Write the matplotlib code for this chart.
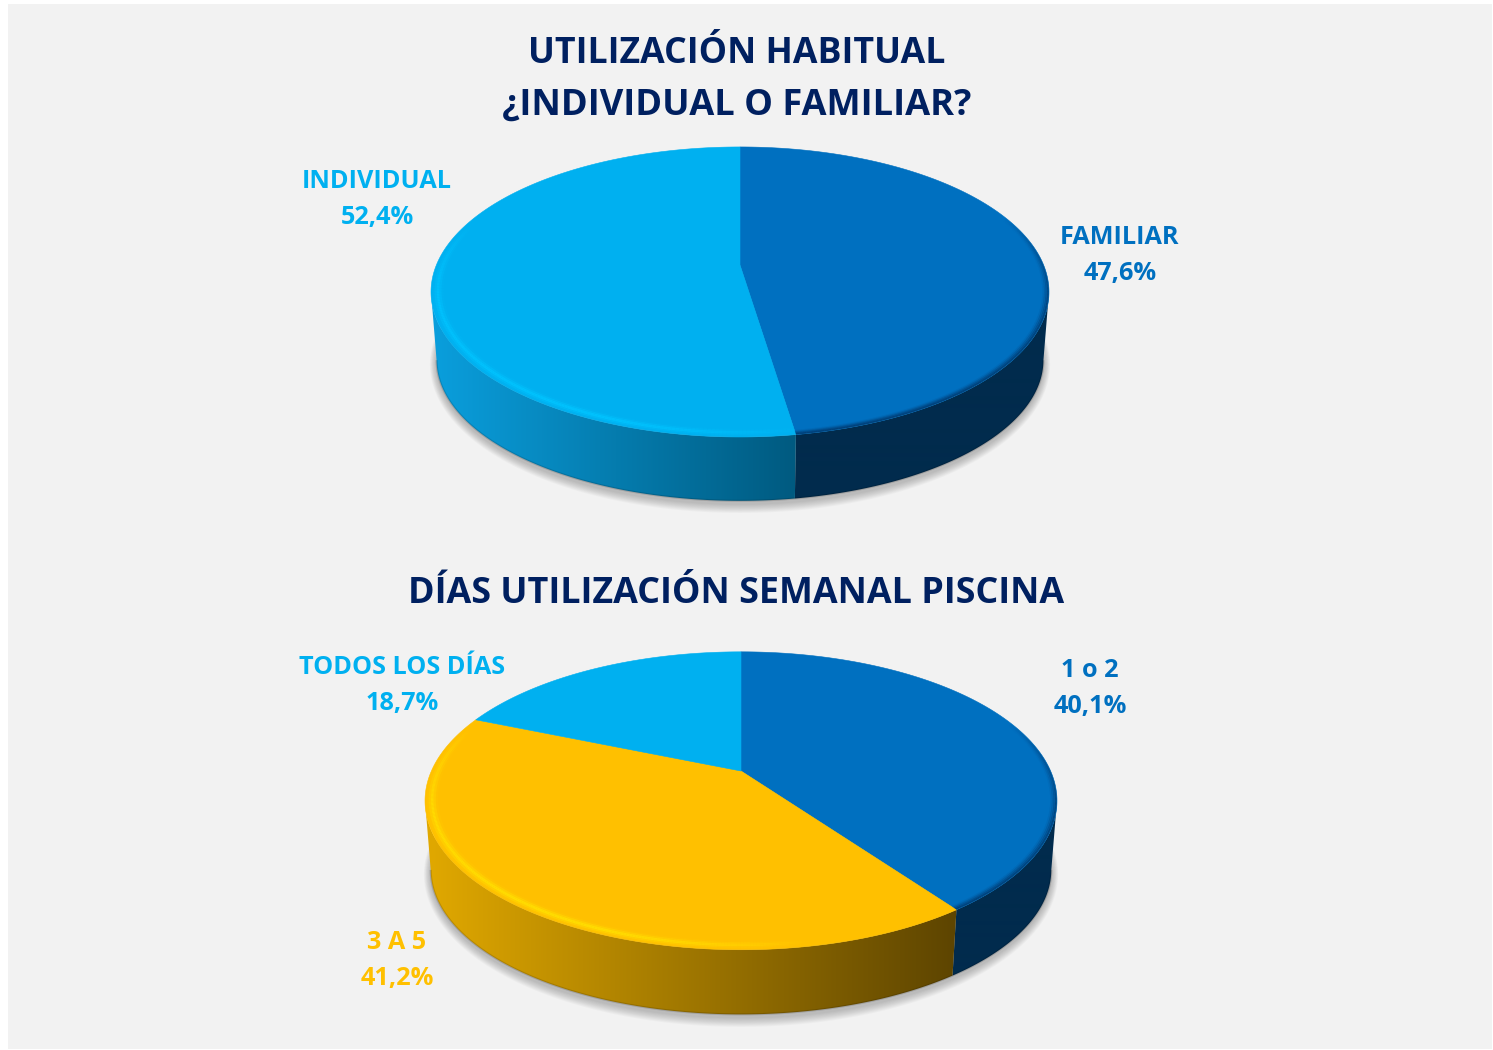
import numpy as np
import matplotlib
matplotlib.use("Agg")
import matplotlib.pyplot as plt
from matplotlib.patches import Polygon, Rectangle
from matplotlib.collections import LineCollection
from matplotlib.colors import to_rgb

W, H = 1493, 1050

TITLE_1 = ["UTILIZACIÓN HABITUAL", "¿INDIVIDUAL O FAMILIAR?"]
NAMES_1 = ["FAMILIAR", "INDIVIDUAL"]
VALUES_1 = [47.6, 52.4]
COLORS_1 = ["#0070C0", "#00B0F0"]

TITLE_2 = ["DÍAS UTILIZACIÓN SEMANAL PISCINA"]
NAMES_2 = ["1 o 2", "3 A 5", "TODOS LOS DÍAS"]
VALUES_2 = [40.1, 41.2, 18.7]
COLORS_2 = ["#0070C0", "#FFC000", "#00B0F0"]

NAVY = "#002060"

# side colours (left end, right end) and the light edge of each top colour
SIDES = {
    "#0070C0": ("#012B4D", "#012B4D"),
    "#00B0F0": ("#0A9EDC", "#005A80"),
    "#FFC000": ("#E0A800", "#5E4500"),
}
EDGES = {"#0070C0": "#003A70", "#00B0F0": "#00C4FF", "#FFC000": "#FFE000"}


def project(t, g, r=1.0, lower=False):
    # point on the disc -> picture, t clockwise from the top
    u, v = r * np.sin(t), r * np.cos(t)
    w = 1 + g["k"] * v
    sb, sa, dy = (g["sb"], g["sa"], g["dy"]) if lower else (1, 1, 0)
    return g["cx"] + sb * g["b"] * u / w, g["cy"] + dy - sa * g["a"] * v / w


def draw_side(ax, t0, t1, col, g):
    # only the front arc shows; its ends are the widest points of the rim
    front0 = np.arccos(-g["k"])
    front1 = 2 * np.pi - front0
    t0, t1 = max(t0, front0), min(t1, front1)
    if t1 <= t0:
        return
    t = np.linspace(t0, t1, 300)
    x0, y0 = project(t, g)
    x1, y1 = project(t, g, lower=True)
    strip = Polygon(np.r_[np.c_[x0, y0], np.c_[x1, y1][::-1]], fc="none", ec="none", zorder=2)
    ax.add_patch(strip)
    left, right = (np.array(to_rgb(c)) for c in SIDES[col])
    ramp = np.clip((np.arange(W) - g["gx0"]) / (g["gx1"] - g["gx0"]), 0, 1)[None, :, None]
    img = left[None, None, :] * (1 - ramp) + right[None, None, :] * ramp
    im = ax.imshow(img, extent=[0, W, H, 0], aspect="auto", zorder=2, interpolation="bilinear")
    im.set_clip_path(strip)
    # thin darker foot of the side
    ax.plot(x1, y1, color="black", alpha=0.14, lw=1.5, zorder=2.5, solid_capstyle="butt")


def draw_bevel(ax, t, col, face, g):
    if col == "#0070C0":
        weight = np.clip((np.sin(t) * 0.45 - np.cos(t) * 0.9 - 0.1) / 0.6, 0, 1)
        radii = [0.998, 0.993, 0.988, 0.983]
        alphas = [0.7, 0.45, 0.25, 0.1]
    else:
        weight = np.clip((-np.sin(t) * 0.75 - np.cos(t) * 0.66 - 0.5) / 0.4, 0, 1)
        radii = [0.992, 0.985, 0.978, 0.971, 0.964]
        alphas = [0.12, 0.45, 0.85, 0.45, 0.12]
    rgb = to_rgb(EDGES[col])
    for r, al in zip(radii, alphas):
        ex, ey = project(t, g, r)
        pts = np.c_[ex, ey]
        segs = np.stack([pts[:-1], pts[1:]], axis=1)
        cols = [(*rgb, al * w) for w in weight[:-1]]
        lc = LineCollection(segs, colors=cols, linewidths=1.8, zorder=4, capstyle="butt")
        ax.add_collection(lc)
        lc.set_clip_path(face)


def draw_pie(ax, values, colors, g):
    all_t = np.linspace(0, 2 * np.pi, 721)
    lx, ly = project(all_t, g, lower=True)

    # soft shadow under the disc
    for i in range(10, 0, -1):
        mx = g["cx"] + (lx - g["cx"]) * (1 + i * 0.0022)
        my = g["cy"] + g["dy"] + 3 + (ly - g["cy"] - g["dy"]) * (1 + i * 0.0055)
        ax.add_patch(Polygon(np.c_[mx, my], fc="black", ec="none", alpha=0.022, zorder=1))

    edges = np.cumsum([0] + list(values)) / sum(values) * 2 * np.pi
    for t0, t1, col in zip(edges[:-1], edges[1:], colors):
        draw_side(ax, t0, t1, col, g)
        t = np.linspace(t0, t1, 300)
        px, py = project(t, g)
        face = Polygon(np.r_[[[g["cx"], g["cy"]]], np.c_[px, py]], fc=col, ec=col, lw=0.4, zorder=3)
        ax.add_patch(face)
        draw_bevel(ax, t, col, face, g)


def label(ax, x, y, name, value, color):
    txt = f"{value:.1f}%".replace(".", ",")
    ax.text(x, y + 2.5, name, color=color, ha="center", va="center", fontsize=LABEL_SIZE,
            fontweight="bold", zorder=6)
    ax.text(x, y + 38.5, txt, color=color, ha="center", va="center", fontsize=LABEL_SIZE,
            fontweight="bold", zorder=6)


plt.rcParams["font.family"] = ["Open Sans", "DejaVu Sans"]
LABEL_SIZE = 18.2

fig = plt.figure(figsize=(W / 100, H / 100), dpi=100, facecolor="white")
ax = fig.add_axes([0, 0, 1, 1])

ax.add_patch(Rectangle((8, 3.5), 1484, 1045, fc="#F2F2F2", ec="none", zorder=0))

geom_1 = dict(cx=740, cy=265, a=140, b=303.6, k=0.186, sa=0.97, sb=0.982, dy=69, gx0=436, gx1=795)
geom_2 = dict(cx=741, cy=771, a=143, b=309.6, k=0.2, sa=0.97, sb=0.982, dy=70, gx0=430, gx1=952)
draw_pie(ax, VALUES_1, COLORS_1, geom_1)
draw_pie(ax, VALUES_2, COLORS_2, geom_2)

for y, line, size in zip([54, 106], TITLE_1, [25.7, 26.1]):
    ax.text(737, y, line, color=NAVY, ha="center", va="center", fontsize=size, fontweight="bold", zorder=6)
ax.text(736.5, 594, TITLE_2[0], color=NAVY, ha="center", va="center", fontsize=25.85, fontweight="bold", zorder=6)

label(ax, 1120, 235, NAMES_1[0], VALUES_1[0], COLORS_1[0])
label(ax, 377, 179, NAMES_1[1], VALUES_1[1], COLORS_1[1])
label(ax, 1090, 668, NAMES_2[0], VALUES_2[0], COLORS_2[0])
label(ax, 397, 940, NAMES_2[1], VALUES_2[1], COLORS_2[1])
label(ax, 402, 665, NAMES_2[2], VALUES_2[2], COLORS_2[2])

ax.set_xlim(0, W)
ax.set_ylim(H, 0)
ax.axis("off")
fig.savefig("out.png", dpi=100, facecolor="white")
plt.close(fig)
